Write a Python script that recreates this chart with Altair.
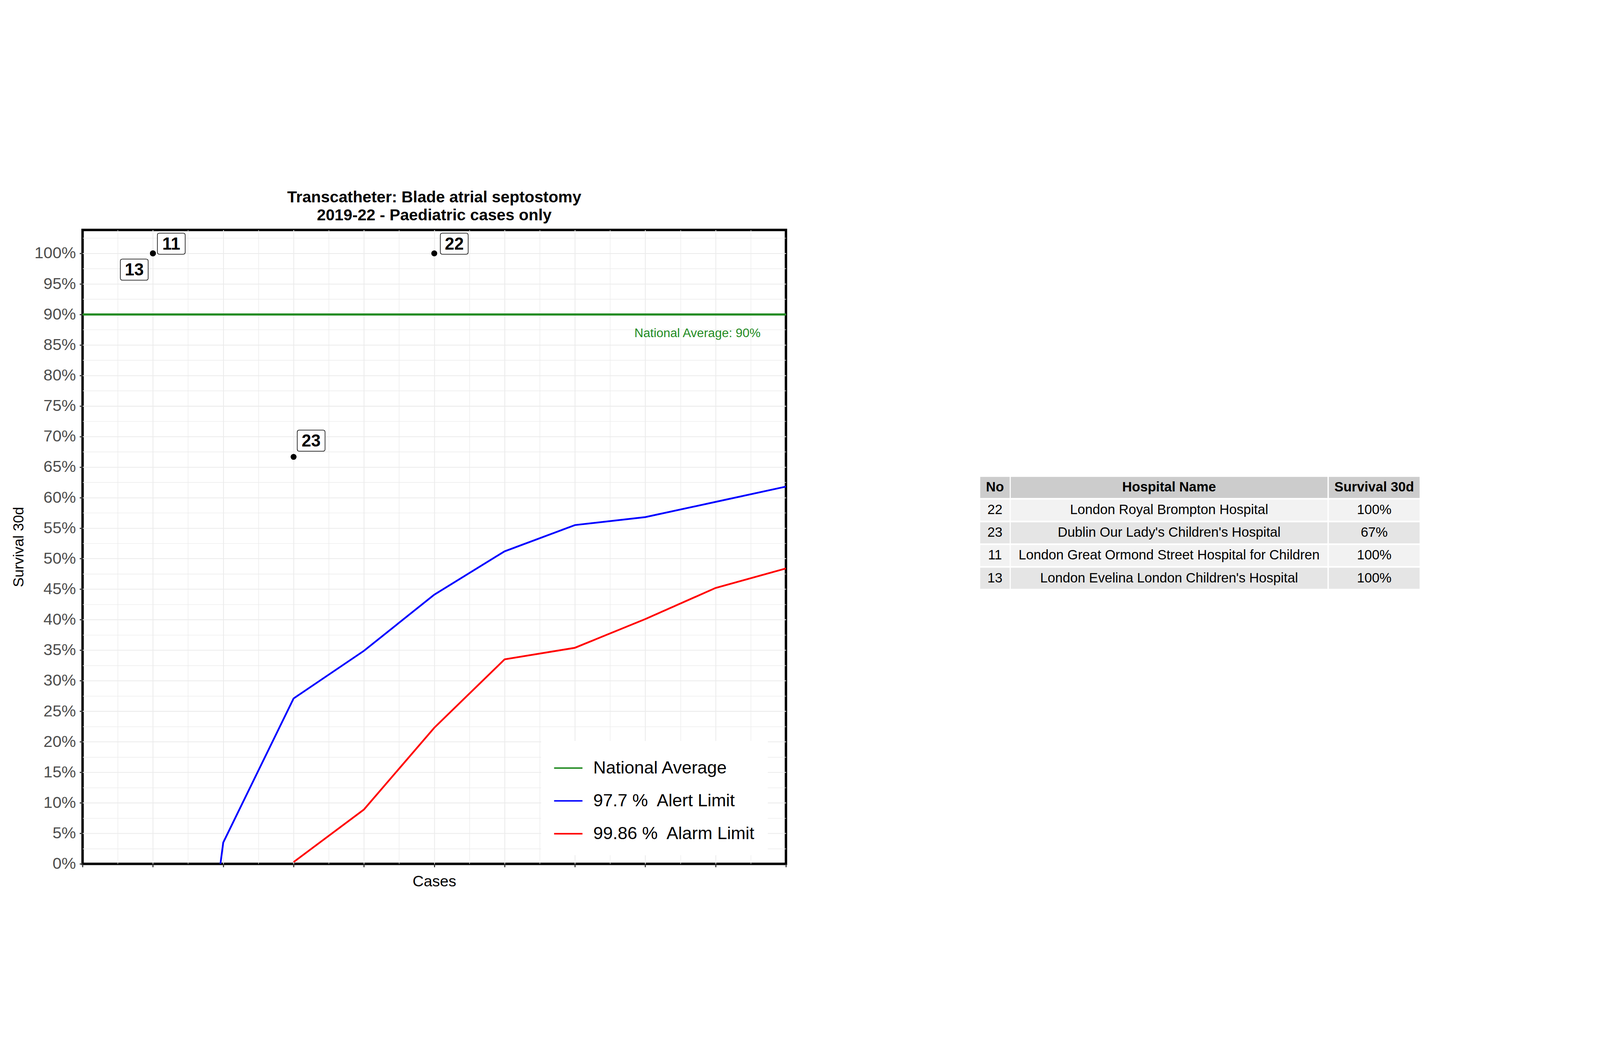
import altair as alt
import pandas as pd

# ---------------- data ----------------
hosp_no = [22, 23, 11, 13]
hosp_name = [
    "London Royal Brompton Hospital",
    "Dublin Our Lady's Children's Hospital",
    "London Great Ormond Street Hospital for Children",
    "London Evelina London Children's Hospital",
]
hosp_cases = [5, 3, 1, 1]
hosp_survival = [1.0, 0.6667, 1.0, 1.0]

alert_cases = [1, 2, 3, 4, 5, 6, 7, 8, 9, 10]
alert_limit = [-0.84, 0.035, 0.271, 0.349, 0.441, 0.512, 0.555, 0.568, 0.593, 0.618]
alarm_cases = [3, 4, 5, 6, 7, 8, 9, 10]
alarm_limit = [0.003, 0.089, 0.223, 0.335, 0.354, 0.401, 0.452, 0.484]

national_avg = 0.90
series_labels = ["National Average", "97.7 %\u00a0 Alert Limit", "99.86 %\u00a0 Alarm Limit"]
series_colors = ["#228B22", "#0000FF", "#FF0000"]

title_lines = ["Transcatheter: Blade atrial septostomy", "2019-22 - Paediatric cases only"]
table_header = ["No", "Hospital Name", "Survival 30d"]

# ---------------- style / layout ----------------
FONT = "Liberation Sans"
W, H = 2603, 2346
X_MAX = 10
Y_TOP = 1.0385
GRID = "#EBEBEB"

label_offsets = {22: (74, -36), 23: (65, -60), 11: (68, -36), 13: (-69, 60)}
BOX_W, BOX_H, BOX_R = 103, 78, 8
hy = BOX_H / BOX_W
rr = 2 * BOX_R / BOX_W
f = lambda v: f"{v:.3f}"
BOX_PATH = (
    f"M {f(-1+rr)} {f(-hy)} L {f(1-rr)} {f(-hy)} Q 1 {f(-hy)} 1 {f(-hy+rr)} "
    f"L 1 {f(hy-rr)} Q 1 {f(hy)} {f(1-rr)} {f(hy)} L {f(-1+rr)} {f(hy)} "
    f"Q -1 {f(hy)} -1 {f(hy-rr)} L -1 {f(-hy+rr)} Q -1 {f(-hy)} {f(-1+rr)} {f(-hy)} Z"
)

# ---------------- main chart ----------------
pts = pd.DataFrame({"no": hosp_no, "cases": hosp_cases, "survival": hosp_survival})
lines_df = pd.DataFrame({
    "cases": alert_cases + alarm_cases,
    "value": alert_limit + alarm_limit,
    "series": [series_labels[1]] * len(alert_cases) + [series_labels[2]] * len(alarm_cases),
})
nat_df = pd.DataFrame({"value": [national_avg], "series": [series_labels[0]]})

x_scale = alt.Scale(domain=[0, X_MAX], nice=False, zero=False)
y_scale = alt.Scale(domain=[0, Y_TOP], nice=False, zero=False)

minor_y = "round(datum.value*1000) % 50 != 0"
edge_y = "datum.value < 0.001"
y_axis = alt.Axis(
    values=[i * 0.025 for i in range(42)],
    labelExpr=f"{minor_y} ? '' : format(datum.value, '.0%')",
    title="Survival 30d",
    titleFontSize=54, titleFontWeight="normal", titleColor="black", titlePadding=30,
    labelFontSize=60, labelColor="#4D4D4D", labelPadding=14,
    tickSize=11, tickWidth=4, tickColor="#333333",
    tickOpacity={"condition": {"test": minor_y, "value": 0}, "value": 1},
    gridColor=GRID,
    gridWidth={"condition": {"test": minor_y, "value": 2}, "value": 3},
    gridOpacity={"condition": {"test": edge_y, "value": 0}, "value": 1},
    domain=False,
)
minor_x = "datum.value % 1 != 0"
edge_x = "datum.value < 0.01 || datum.value > 9.99"
x_axis = alt.Axis(
    values=[i * 0.5 for i in range(21)],
    labels=False,
    title="Cases",
    titleFontSize=57, titleFontWeight="normal", titleColor="black", titlePadding=24,
    tickSize=12, tickWidth=4, tickColor="#333333",
    tickOpacity={"condition": {"test": minor_x, "value": 0}, "value": 1},
    gridColor=GRID,
    gridWidth={"condition": {"test": minor_x, "value": 2}, "value": 3},
    gridOpacity={"condition": {"test": edge_x, "value": 0}, "value": 1},
    domain=False,
)

color_scale = alt.Scale(domain=series_labels, range=series_colors)
legend = alt.Legend(
    title=None, orient="none", legendX=1697, legendY=1891,
    fillColor="white", padding=45, strokeColor="white",
    symbolType="stroke", symbolSize=11025, symbolStrokeWidth=5.5,
    labelFontSize=65, labelFont=FONT, labelColor="black", labelOffset=37,
    labelLimit=2000, rowPadding=32.5,
)

limit_lines = alt.Chart(lines_df).mark_line(strokeWidth=6.5, clip=True).encode(
    x=alt.X("cases:Q", scale=x_scale, axis=x_axis),
    y=alt.Y("value:Q", scale=y_scale, axis=y_axis),
    color=alt.Color("series:N", scale=color_scale, legend=legend),
)
nat_rule = alt.Chart(nat_df).mark_rule(strokeWidth=8).encode(
    y=alt.Y("value:Q", scale=y_scale),
    color=alt.Color("series:N", scale=color_scale, legend=legend),
)
nat_text = alt.Chart(nat_df).transform_calculate(
    txt="'National Average: ' + format(datum.value, '.0%')"
).mark_text(
    align="right", baseline="alphabetic", dx=-94, dy=84, fontSize=46, color="#228B22", font=FONT
).encode(
    x=alt.datum(X_MAX),
    y=alt.Y("value:Q", scale=y_scale),
    text="txt:N",
)
points = alt.Chart(pts).mark_circle(size=480, color="black", opacity=1).encode(
    x=alt.X("cases:Q", scale=x_scale),
    y=alt.Y("survival:Q", scale=y_scale),
)

label_layers = []
for n in hosp_no:
    dx, dy = label_offsets[n]
    base = alt.Chart(pts).transform_filter(alt.datum.no == n)
    label_layers.append(
        base.mark_point(shape=BOX_PATH, size=BOX_W * BOX_W, filled=True, fill="white",
                        stroke="black", strokeWidth=2.2, opacity=1, xOffset=dx, yOffset=dy).encode(
            x=alt.X("cases:Q", scale=x_scale), y=alt.Y("survival:Q", scale=y_scale))
    )
    label_layers.append(
        base.mark_text(fontSize=63, fontWeight="bold", font=FONT, color="black",
                       align="center", baseline="middle", dx=dx, dy=dy + 3).encode(
            x=alt.X("cases:Q", scale=x_scale), y=alt.Y("survival:Q", scale=y_scale),
            text="no:N")
    )

main = alt.layer(limit_lines, nat_rule, nat_text, points, *label_layers).properties(
    width=W, height=H,
    title=alt.TitleParams(text=title_lines, fontSize=59, fontWeight="bold", lineHeight=66,
                          anchor="middle", frame="group", offset=24, color="black", font=FONT),
    view=alt.ViewBackground(stroke="black", strokeWidth=9),
)

# ---------------- table ----------------
TABLE_W = 1626
COL_EDGES = [(0, 109), (113, 1285), (1290, 1626)]
ROW_PITCH, CELL_H = 84, 78
TABLE_TOP = 911          # offset of the header row below the top of the plot panel
TABLE_H = TABLE_TOP + 5 * ROW_PITCH
gap = (ROW_PITCH - CELL_H) / ROW_PITCH

rows = [table_header] + [
    [str(n), name, f"{round(s * 100)}%"] for n, name, s in zip(hosp_no, hosp_name, hosp_survival)
]
fills = ["#CCCCCC"] + ["#F2F2F2" if i % 2 == 0 else "#E5E5E5" for i in range(len(hosp_no))]
cells = []
for r, row in enumerate(rows):
    for c, txt in enumerate(row):
        x0, x1 = COL_EDGES[c]
        cells.append({"txt": txt, "header": r == 0, "fill": fills[r],
                      "x0": x0, "x1": x1, "xc": (x0 + x1) / 2,
                      "y0": r + gap / 2, "y1": r + 1 - gap / 2, "yc": r + 0.5})
cells_df = pd.DataFrame(cells)

tx = alt.Scale(domain=[0, TABLE_W], nice=False, zero=False)
ty = alt.Scale(domain=[-TABLE_TOP / ROW_PITCH, 5], nice=False, zero=False, reverse=True)
tbase = alt.Chart(cells_df)
t_rect = tbase.mark_rect().encode(
    x=alt.X("x0:Q", scale=tx, axis=None), x2="x1:Q",
    y=alt.Y("y0:Q", scale=ty, axis=None), y2="y1:Q",
    fill=alt.Fill("fill:N", scale=None),
)
t_head = tbase.transform_filter(alt.datum.header == True).mark_text(
    fontSize=50, fontWeight="bold", font=FONT, color="black", baseline="middle", align="center"
).encode(x=alt.X("xc:Q", scale=tx, axis=None), y=alt.Y("yc:Q", scale=ty, axis=None), text="txt:N")
t_body = tbase.transform_filter(alt.datum.header == False).mark_text(
    fontSize=50, font=FONT, color="black", baseline="middle", align="center"
).encode(x=alt.X("xc:Q", scale=tx, axis=None), y=alt.Y("yc:Q", scale=ty, axis=None), text="txt:N")
table = alt.layer(t_rect, t_head, t_body).properties(width=TABLE_W, height=TABLE_H)

chart = alt.hconcat(main, table, spacing=710).properties(
    padding={"left": 27, "top": 83, "right": 656, "bottom": 21}
).configure(font=FONT).configure_view(strokeWidth=0)

chart.save("out.html", embed_options={"renderer": "svg", "actions": False})
